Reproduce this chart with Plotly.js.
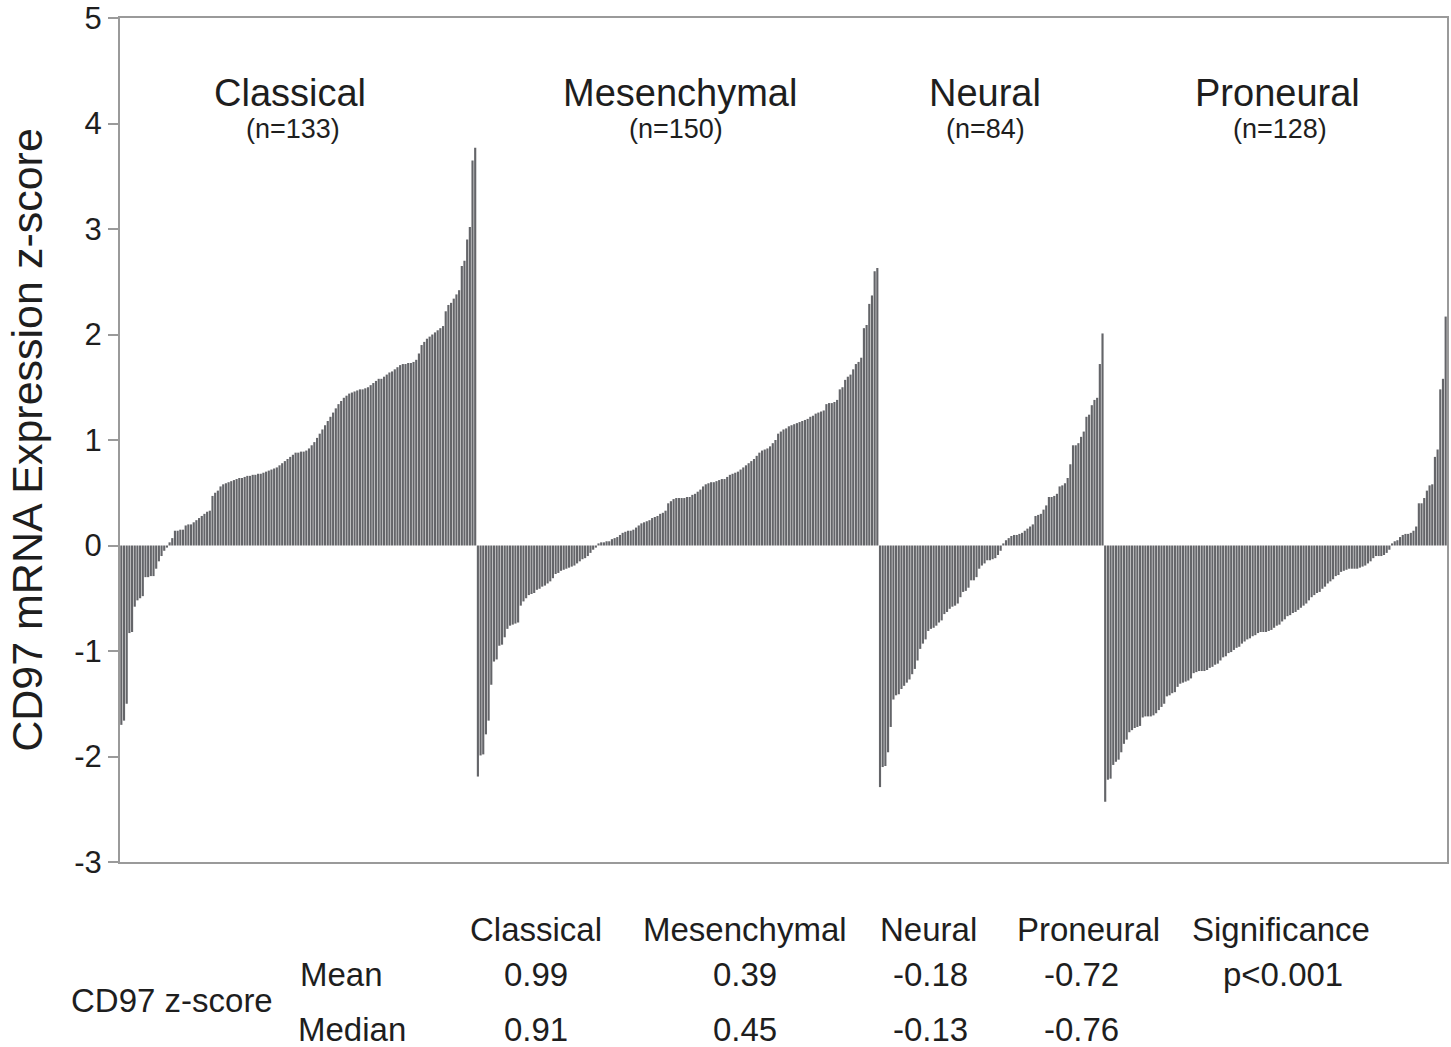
<!DOCTYPE html>
<html>
<head>
<meta charset="utf-8">
<script src="https://cdn.plot.ly/plotly-3.0.1.min.js"></script>
<style>html,body{margin:0;padding:0;background:#fff;}#chart{width:1451px;height:1047px;}</style>
</head>
<body>
<div id="chart"></div>
<script>
// ---- data ----
const groupNames = ["Classical", "Mesenchymal", "Neural", "Proneural"];
const groupN = [133, 150, 84, 128];

const classical = [-1.70,-1.66,-1.50,-0.83,-0.82,-0.58,-0.52,-0.50,-0.48,-0.30,-0.30,-0.29,-0.29,-0.22,-0.15,-0.10,-0.05,-0.02,
  0.03,0.07,0.14,0.14,0.15,0.15,0.19,0.20,0.20,0.22,0.24,0.26,0.28,0.30,0.32,0.33,0.47,0.50,0.52,
  0.56,0.58,0.59,0.60,0.61,0.62,0.63,0.64,0.64,0.65,0.66,0.66,0.67,0.67,0.68,0.68,0.69,
  0.70,0.71,0.72,0.73,0.74,0.76,0.78,0.80,0.82,0.84,0.86,0.88,0.88,0.89,0.89,0.90,0.92,0.95,
  0.98,1.02,1.06,1.10,1.14,1.18,1.22,1.26,1.30,1.34,1.37,1.40,
  1.42,1.44,1.45,1.46,1.47,1.48,1.48,1.49,1.50,1.52,1.54,1.56,1.58,1.58,1.60,
  1.62,1.64,1.65,1.67,1.69,1.71,1.72,1.72,1.73,1.73,1.74,1.76,1.82,1.90,1.93,
  1.96,1.98,2.00,2.02,2.04,2.06,2.08,2.22,2.28,2.30,2.34,2.38,2.42,2.65,2.70,2.90,3.02,3.65,3.77];

const mesenchymal = [-2.19,-1.99,-1.98,-1.79,-1.66,-1.32,-1.10,-1.08,-0.95,-0.94,-0.87,-0.79,-0.76,-0.75,-0.74,-0.73,
  -0.57,-0.53,-0.50,-0.47,-0.46,-0.45,-0.42,-0.41,-0.39,-0.38,-0.36,-0.34,-0.31,-0.27,-0.26,-0.24,-0.23,
  -0.22,-0.21,-0.20,-0.19,-0.17,-0.15,-0.13,-0.12,-0.10,-0.07,-0.04,-0.02,
  0.02,0.03,0.03,0.04,0.04,0.06,0.07,0.08,0.10,0.12,0.13,0.14,0.14,0.15,0.17,0.19,
  0.21,0.22,0.23,0.24,0.26,0.27,0.28,0.30,0.31,0.33,0.40,0.42,
  0.44,0.45,0.45,0.45,0.45,0.46,0.46,0.48,0.49,0.51,0.53,0.56,
  0.58,0.59,0.60,0.60,0.61,0.62,0.63,0.63,0.65,0.67,0.68,0.69,0.70,0.72,0.74,0.76,0.78,0.80,
  0.82,0.85,0.88,0.90,0.91,0.92,0.94,0.97,1.00,1.06,1.08,1.10,1.11,1.13,
  1.14,1.15,1.16,1.17,1.18,1.19,1.20,1.22,1.23,1.25,1.26,1.27,1.28,1.34,1.35,1.35,1.36,1.38,
  1.48,1.50,1.57,1.60,1.62,1.67,1.72,1.74,1.78,2.06,2.09,2.29,2.37,2.60,2.63];

const neural = [-2.29,-2.10,-2.09,-1.96,-1.72,-1.46,-1.42,-1.41,-1.36,-1.33,-1.30,-1.27,-1.22,-1.17,-1.09,-0.98,-0.93,-0.89,
  -0.81,-0.79,-0.78,-0.76,-0.73,-0.71,-0.65,-0.63,-0.60,-0.58,-0.57,-0.55,-0.49,-0.44,-0.43,-0.40,-0.33,-0.33,-0.30,
  -0.22,-0.19,-0.17,-0.14,-0.14,-0.13,-0.12,-0.09,-0.05,
  0.02,0.05,0.07,0.09,0.10,0.10,0.11,0.12,0.14,0.16,0.18,0.20,0.28,0.29,0.30,0.34,0.38,0.46,0.46,0.47,
  0.49,0.56,0.57,0.59,0.64,0.77,0.95,0.95,0.97,1.03,1.08,1.22,1.24,1.33,1.38,1.40,1.72,2.01];

const proneural = [-2.43,-2.22,-2.21,-2.08,-2.05,-2.03,-1.96,-1.88,-1.84,-1.77,-1.75,-1.73,-1.72,-1.71,
  -1.63,-1.62,-1.62,-1.62,-1.61,-1.59,-1.56,-1.53,-1.50,-1.43,-1.42,-1.40,-1.39,-1.34,-1.31,-1.30,-1.29,
  -1.28,-1.26,-1.21,-1.20,-1.19,-1.19,-1.19,-1.18,-1.16,-1.15,-1.13,-1.12,-1.09,-1.06,-1.05,-1.02,-1.01,
  -0.99,-0.97,-0.96,-0.93,-0.91,-0.89,-0.88,-0.86,-0.85,-0.83,-0.82,-0.82,-0.82,-0.81,-0.80,-0.78,
  -0.76,-0.75,-0.72,-0.70,-0.67,-0.66,-0.64,-0.63,-0.61,-0.59,-0.57,-0.55,-0.52,-0.49,-0.47,-0.45,-0.44,-0.41,
  -0.39,-0.36,-0.34,-0.32,-0.29,-0.28,-0.25,-0.24,-0.23,-0.22,-0.22,-0.22,-0.22,-0.21,-0.20,-0.19,-0.17,-0.15,
  -0.12,-0.10,-0.10,-0.10,-0.09,-0.07,-0.04,
  0.02,0.04,0.05,0.08,0.10,0.11,0.11,0.12,0.14,0.18,0.40,0.40,0.45,0.52,0.57,0.58,0.84,0.91,1.48,1.58,2.17];

const tableHeaders = ["Classical", "Mesenchymal", "Neural", "Proneural", "Significance"];
const means = ["0.99", "0.39", "-0.18", "-0.72", "p<0.001"];
const medians = ["0.91", "0.45", "-0.13", "-0.76", ""];
const rowLabels = ["Mean", "Median"];
const tableTitle = "CD97 z-score";
const yTitle = "CD97 mRNA Expression z-score";
const yTicks = [-3, -2, -1, 0, 1, 2, 3, 4, 5];
const yTickText = ["-3", "-2", "-1", "0", "1", "2", "3", "4", "5"];

// ---- build ----
const groups = [classical, mesenchymal, neural, proneural];
const xs = [], ys = [];
let idx = 0;
groups.forEach(g => { g.forEach(v => { xs.push(idx++); ys.push(v); }); });
const total = idx;

// pixel helpers for text placement (plot area 120..1447 x 18..862)
const L = 120, R = 1447, T = 18, B = 862;
const px = p => (p - L) / (R - L);
const py = p => (B - p) / (B - T);

const FONT = "Liberation Sans, Arial, Helvetica, sans-serif";
const TXT = '#1e1e1e';
const ann = [];
const groupCx = [290, 680, 985, 1277];
const nCx = [293, 676, 986, 1280];
groupNames.forEach((n, i) => {
  ann.push({text: n, x: px(groupCx[i]), y: py(93), xref: 'paper', yref: 'paper', showarrow: false,
    font: {size: 38, color: TXT, family: FONT}, xanchor: 'center', yanchor: 'middle'});
  ann.push({text: "(n=" + groupN[i] + ")", x: px(nCx[i]), y: py(129), xref: 'paper', yref: 'paper', showarrow: false,
    font: {size: 27, color: TXT, family: FONT}, xanchor: 'center', yanchor: 'middle'});
});
const colCx = [536, 745, 928, 1088, 1281];
const valCx = [536, 745, 930, 1081, 1283];
const TS = 33;
tableHeaders.forEach((h, i) => {
  ann.push({text: h, x: px(colCx[i]), y: py(929), xref: 'paper', yref: 'paper', showarrow: false,
    font: {size: TS, color: TXT, family: FONT}, xanchor: 'center', yanchor: 'middle'});
});
means.forEach((m, i) => {
  ann.push({text: m, x: px(valCx[i]), y: py(974), xref: 'paper', yref: 'paper', showarrow: false,
    font: {size: TS, color: TXT, family: FONT}, xanchor: 'center', yanchor: 'middle'});
});
medians.forEach((m, i) => {
  if (!m) return;
  ann.push({text: m, x: px(valCx[i]), y: py(1029), xref: 'paper', yref: 'paper', showarrow: false,
    font: {size: TS, color: TXT, family: FONT}, xanchor: 'center', yanchor: 'middle'});
});
ann.push({text: rowLabels[0], x: px(341), y: py(974), xref: 'paper', yref: 'paper', showarrow: false,
  font: {size: TS, color: TXT, family: FONT}, xanchor: 'center', yanchor: 'middle'});
ann.push({text: rowLabels[1], x: px(352), y: py(1029), xref: 'paper', yref: 'paper', showarrow: false,
  font: {size: TS, color: TXT, family: FONT}, xanchor: 'center', yanchor: 'middle'});
ann.push({text: tableTitle, x: px(172), y: py(1000), xref: 'paper', yref: 'paper', showarrow: false,
  font: {size: TS, color: TXT, family: FONT}, xanchor: 'center', yanchor: 'middle'});

const trace = {
  type: 'bar', x: xs, y: ys,
  marker: {color: '#646569', line: {width: 0}},
  hoverinfo: 'y', showlegend: false
};

const layout = {
  width: 1451, height: 1047,
  margin: {l: L, r: 1451 - R, t: T, b: 1047 - B, pad: 0},
  paper_bgcolor: '#fff', plot_bgcolor: '#fff',
  font: {family: FONT, color: TXT},
  bargap: 0.2,
  xaxis: {range: [-0.5, total - 0.5], showticklabels: false, ticks: '', showgrid: false, zeroline: false,
    showline: true, mirror: true, linecolor: '#9a9a9a', linewidth: 2},
  yaxis: {range: [-3, 5], tickvals: yTicks, ticktext: yTickText, ticks: 'outside', ticklen: 10, tickwidth: 2, tickcolor: '#9a9a9a',
    showgrid: false, zeroline: false, showline: true, mirror: true, linecolor: '#9a9a9a', linewidth: 2,
    tickfont: {size: 31, color: TXT, family: FONT},
    title: {text: yTitle, font: {size: 43, color: TXT, family: FONT}, standoff: 18}},
  annotations: ann
};

Plotly.newPlot('chart', [trace], layout, {displayModeBar: false, staticPlot: true});
</script>
</body>
</html>
